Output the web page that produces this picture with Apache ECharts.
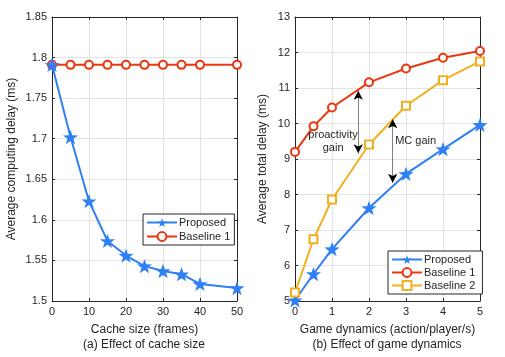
<!DOCTYPE html>
<html>
<head>
<meta charset="utf-8">
<script src="https://cdn.jsdelivr.net/npm/echarts@6/dist/echarts.min.js"></script>
<style>
  html, body { margin: 0; padding: 0; background: #fff; }
  #chart { width: 505px; height: 357px; }
</style>
</head>
<body>
<div id="chart"></div>
<script>
// (a) cache size
var cacheX = [0, 5, 10, 15, 20, 25, 30, 35, 40, 50]
var cacheProposed = [1.791, 1.702, 1.623, 1.574, 1.556, 1.543, 1.537, 1.533, 1.521, 1.516]
var cacheBaseX = [0, 5, 10, 15, 20, 25, 30, 35, 40, 50]
var cacheBaseline1 = [1.791, 1.791, 1.791, 1.791, 1.791, 1.791, 1.791, 1.791, 1.791, 1.791]

// (b) game dynamics
var dynX = [0, 0.5, 1, 2, 3, 4, 5]
var dynProposed = [5.02, 5.76, 6.46, 7.62, 8.58, 9.28, 9.96]
var dynBaseline1 = [9.20, 9.92, 10.45, 11.16, 11.55, 11.85, 12.04]
var dynBaseline2 = [5.24, 6.74, 7.86, 9.41, 10.50, 11.22, 11.75]

// gain arrows: [x, top, bottom] and text labels
var gainArrows = [[1.71, 10.92, 9.16], [2.64, 10.12, 8.33]]
var gainLabels = [[1.03, 9.5, 'proactivity\ngain'], [3.26, 9.5, 'MC gain']]

var blue = '#2f7ff5'
var red = '#e8380f'
var yellow = '#f0b020'
var ink = '#262626'
var font = 'Liberation Sans'
var star = 'path://M0,-10 L2.35,-3.24 L9.51,-3.09 L3.8,1.24 L5.88,8.09 L0,4 L-5.88,8.09 L-3.8,1.24 L-9.51,-3.09 L-2.35,-3.24 Z'

function pairs (xs, ys) {
  return xs.map(function (x, i) { return [x, ys[i]] })
}

function mainX (grid, min, max, interval, name) {
  return {
    type: 'value', gridIndex: grid, min: min, max: max, interval: interval,
    name: name, nameLocation: 'middle', nameGap: 23,
    nameTextStyle: { color: ink, fontSize: 12, fontFamily: font },
    axisLine: { onZero: false, lineStyle: { color: ink, width: 1 } },
    axisTick: { inside: true, length: 3, lineStyle: { color: ink } },
    axisLabel: { color: ink, fontSize: 11, fontFamily: font, margin: 5 },
    splitLine: { show: true, lineStyle: { color: '#e3e3e3', width: 1 } }
  }
}
function mainY (grid, min, max, interval, name, gap) {
  return {
    type: 'value', gridIndex: grid, min: min, max: max, interval: interval,
    name: name, nameLocation: 'middle', nameGap: gap,
    nameTextStyle: { color: ink, fontSize: 12, fontFamily: font },
    axisLine: { onZero: false, lineStyle: { color: ink, width: 1 } },
    axisTick: { inside: true, length: 3, lineStyle: { color: ink } },
    axisLabel: { color: ink, fontSize: 11, fontFamily: font, margin: 5 },
    splitLine: { show: true, lineStyle: { color: '#e3e3e3', width: 1 } }
  }
}
function frameAxis (grid, min, max, interval, pos) {
  return {
    type: 'value', gridIndex: grid, min: min, max: max, interval: interval, position: pos,
    axisLine: { show: true, onZero: false, lineStyle: { color: ink, width: 1 } },
    axisTick: { show: true, inside: true, length: 3, lineStyle: { color: ink } },
    axisLabel: { show: false },
    splitLine: { show: false }
  }
}

function arrowLines () {
  return gainArrows.map(function (a) {
    return [{ coord: [a[0], a[1]] }, { coord: [a[0], a[2]] }]
  })
}

var chart = echarts.init(document.getElementById('chart'), null, { renderer: 'canvas' })

var option = {
  backgroundColor: '#fff',
  animation: false,
  textStyle: { fontFamily: font },
  grid: [
    { left: 52, right: 268, top: 17, bottom: 56 },
    { left: 295, right: 25, top: 17, bottom: 56 }
  ],
  xAxis: [
    mainX(0, 0, 50, 10, 'Cache size (frames)'),
    mainX(1, 0, 5, 1, 'Game dynamics (action/player/s)'),
    frameAxis(0, 0, 50, 10, 'top'),
    frameAxis(1, 0, 5, 1, 'top')
  ],
  yAxis: [
    mainY(0, 1.5, 1.85, 0.05, 'Average computing delay (ms)', 34),
    mainY(1, 5, 13, 1, 'Average total delay (ms)', 26),
    frameAxis(0, 1.5, 1.85, 0.05, 'right'),
    frameAxis(1, 5, 13, 1, 'right')
  ],
  legend: [
    {
      data: ['Proposed', 'Baseline 1'],
      orient: 'vertical', left: 143, top: 214,
      itemWidth: 30, itemHeight: 11, itemGap: 3,
      padding: [3, 4, 3, 3],
      borderColor: '#262626', borderWidth: 1, backgroundColor: '#fff',
      textStyle: { color: ink, fontSize: 11, fontFamily: font, padding: [0, 0, 0, -3] }
    },
    {
      data: ['Proposed ', 'Baseline 1 ', 'Baseline 2'],
      orient: 'vertical', left: 388, top: 251,
      itemWidth: 30, itemHeight: 11, itemGap: 2,
      padding: [3, 4, 3, 3],
      borderColor: '#262626', borderWidth: 1, backgroundColor: '#fff',
      textStyle: { color: ink, fontSize: 11, fontFamily: font, padding: [0, 0, 0, -3] }
    }
  ],
  series: [
    {
      name: 'Baseline 1', type: 'line', xAxisIndex: 0, yAxisIndex: 0,
      data: pairs(cacheBaseX, cacheBaseline1),
      symbol: 'emptyCircle', symbolSize: 8,
      lineStyle: { color: red, width: 2 },
      itemStyle: { color: red, borderColor: red, borderWidth: 2 }, z: 2
    },
    {
      name: 'Proposed', type: 'line', xAxisIndex: 0, yAxisIndex: 0,
      data: pairs(cacheX, cacheProposed),
      symbol: star, symbolKeepAspect: true, symbolSize: 15,
      lineStyle: { color: blue, width: 2 },
      itemStyle: { color: blue }, z: 3
    },
    {
      name: 'Proposed ', type: 'line', xAxisIndex: 1, yAxisIndex: 1,
      data: pairs(dynX, dynProposed),
      symbol: star, symbolKeepAspect: true, symbolSize: 15,
      lineStyle: { color: blue, width: 2 },
      itemStyle: { color: blue }, z: 3,
      // black arrow heads only (shaft hidden by an empty dash pattern)
      markLine: {
        silent: true, symbol: ['arrow', 'arrow'], symbolSize: [7, 9], z: 6,
        lineStyle: { color: '#000', width: 1, type: [0, 10000] },
        label: { show: false },
        data: arrowLines()
      }
    },
    {
      name: 'Baseline 1 ', type: 'line', xAxisIndex: 1, yAxisIndex: 1,
      data: pairs(dynX, dynBaseline1),
      symbol: 'emptyCircle', symbolSize: 8,
      lineStyle: { color: red, width: 2 },
      itemStyle: { color: red, borderColor: red, borderWidth: 2 }, z: 3
    },
    {
      name: 'Baseline 2', type: 'line', xAxisIndex: 1, yAxisIndex: 1,
      data: pairs(dynX, dynBaseline2),
      symbol: 'emptyRect', symbolSize: 8,
      lineStyle: { color: yellow, width: 2 },
      itemStyle: { color: yellow, borderColor: yellow, borderWidth: 1.5 }, z: 3,
      markLine: {
        silent: true, symbol: 'none', z: 5,
        lineStyle: { color: '#808080', width: 1, type: 'solid' },
        label: { show: false },
        data: arrowLines()
      },
      markPoint: {
        silent: true, symbol: 'circle', symbolSize: 0,
        label: { show: true, position: 'inside', color: ink, fontSize: 11, fontFamily: font, lineHeight: 13 },
        data: gainLabels.map(function (g) { return { coord: [g[0], g[1]], value: g[2] } })
      }
    }
  ],
  graphic: [
    { type: 'text', x: 144, y: 339, style: { text: '(a) Effect of cache size', fill: ink, fontSize: 12, fontFamily: font, align: 'center', textAlign: 'center' } },
    { type: 'text', x: 387, y: 339, style: { text: '(b) Effect of game dynamics', fill: ink, fontSize: 12, fontFamily: font, align: 'center', textAlign: 'center' } }
  ]
}

chart.setOption(option)
</script>
</body>
</html>
